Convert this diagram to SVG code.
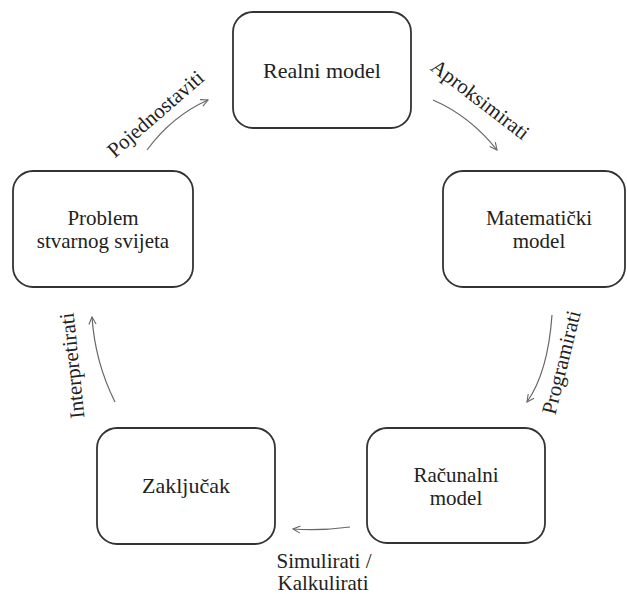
<svg xmlns="http://www.w3.org/2000/svg" width="627" height="594" viewBox="0 0 627 594">
<style>
.box{fill:#fff;stroke:#333;stroke-width:1.8}
.t{font-family:'Liberation Serif','Times New Roman',serif;font-size:21px;fill:#222;text-anchor:middle}
.t1{font-size:22px}
.l{font-family:'Liberation Serif','Times New Roman',serif;font-size:21px;fill:#222;text-anchor:middle}
.c{fill:none;stroke:#666;stroke-width:1.2;marker-end:url(#ah)}
</style>
<defs>
<marker id="ah" viewBox="0 0 10 10" refX="9" refY="5" markerWidth="9" markerHeight="9" markerUnits="userSpaceOnUse" orient="auto">
<path d="M1,1 L9,5 L1,9" fill="none" stroke="#666" stroke-width="1.2"/>
</marker>
</defs>
<rect width="627" height="594" fill="#fff"/>
<g id="realni"><rect class="box" x="233" y="12" width="178" height="116" rx="20"/><text class="t t1" x="322" y="78">Realni model</text></g>
<g id="matematicki"><rect class="box" x="443" y="171" width="182" height="116" rx="20"/><text class="t" x="539" y="225">Matematički</text><text class="t" x="539" y="248">model</text></g>
<g id="racunalni"><rect class="box" x="367" y="428" width="178" height="115" rx="20"/><text class="t" x="456" y="482">Računalni</text><text class="t" x="456" y="505">model</text></g>
<g id="zakljucak"><rect class="box" x="97" y="428" width="178" height="116" rx="20"/><text class="t t1" x="186" y="493">Zaključak</text></g>
<g id="problem"><rect class="box" x="13" y="171" width="180" height="116" rx="20"/><text class="t" x="103" y="225">Problem</text><text class="t" x="103" y="248">stvarnog svijeta</text></g>
<g id="connectors">
<path class="c" d="M147,150 Q172,116 208,100"/>
<path class="c" d="M433,100 Q470,116 497,150"/>
<path class="c" d="M552,315 Q548,372 527,402"/>
<path class="c" d="M350,527 Q320,531 293,529"/>
<path class="c" d="M115,402 Q95,362 92,317"/>
</g>
<g id="labels">
<text class="l" transform="translate(160,119) rotate(-41)">Pojednostaviti</text>
<text class="l" transform="translate(476,105) rotate(37.5)">Aproksimirati</text>
<text class="l" transform="translate(568,364) rotate(-76)">Programirati</text>
<text class="l" x="324" y="568">Simulirati /</text>
<text class="l" x="323" y="590">Kalkulirati</text>
<text class="l" transform="translate(79,365) rotate(-96)">Interpretirati</text>
</g>
</svg>
